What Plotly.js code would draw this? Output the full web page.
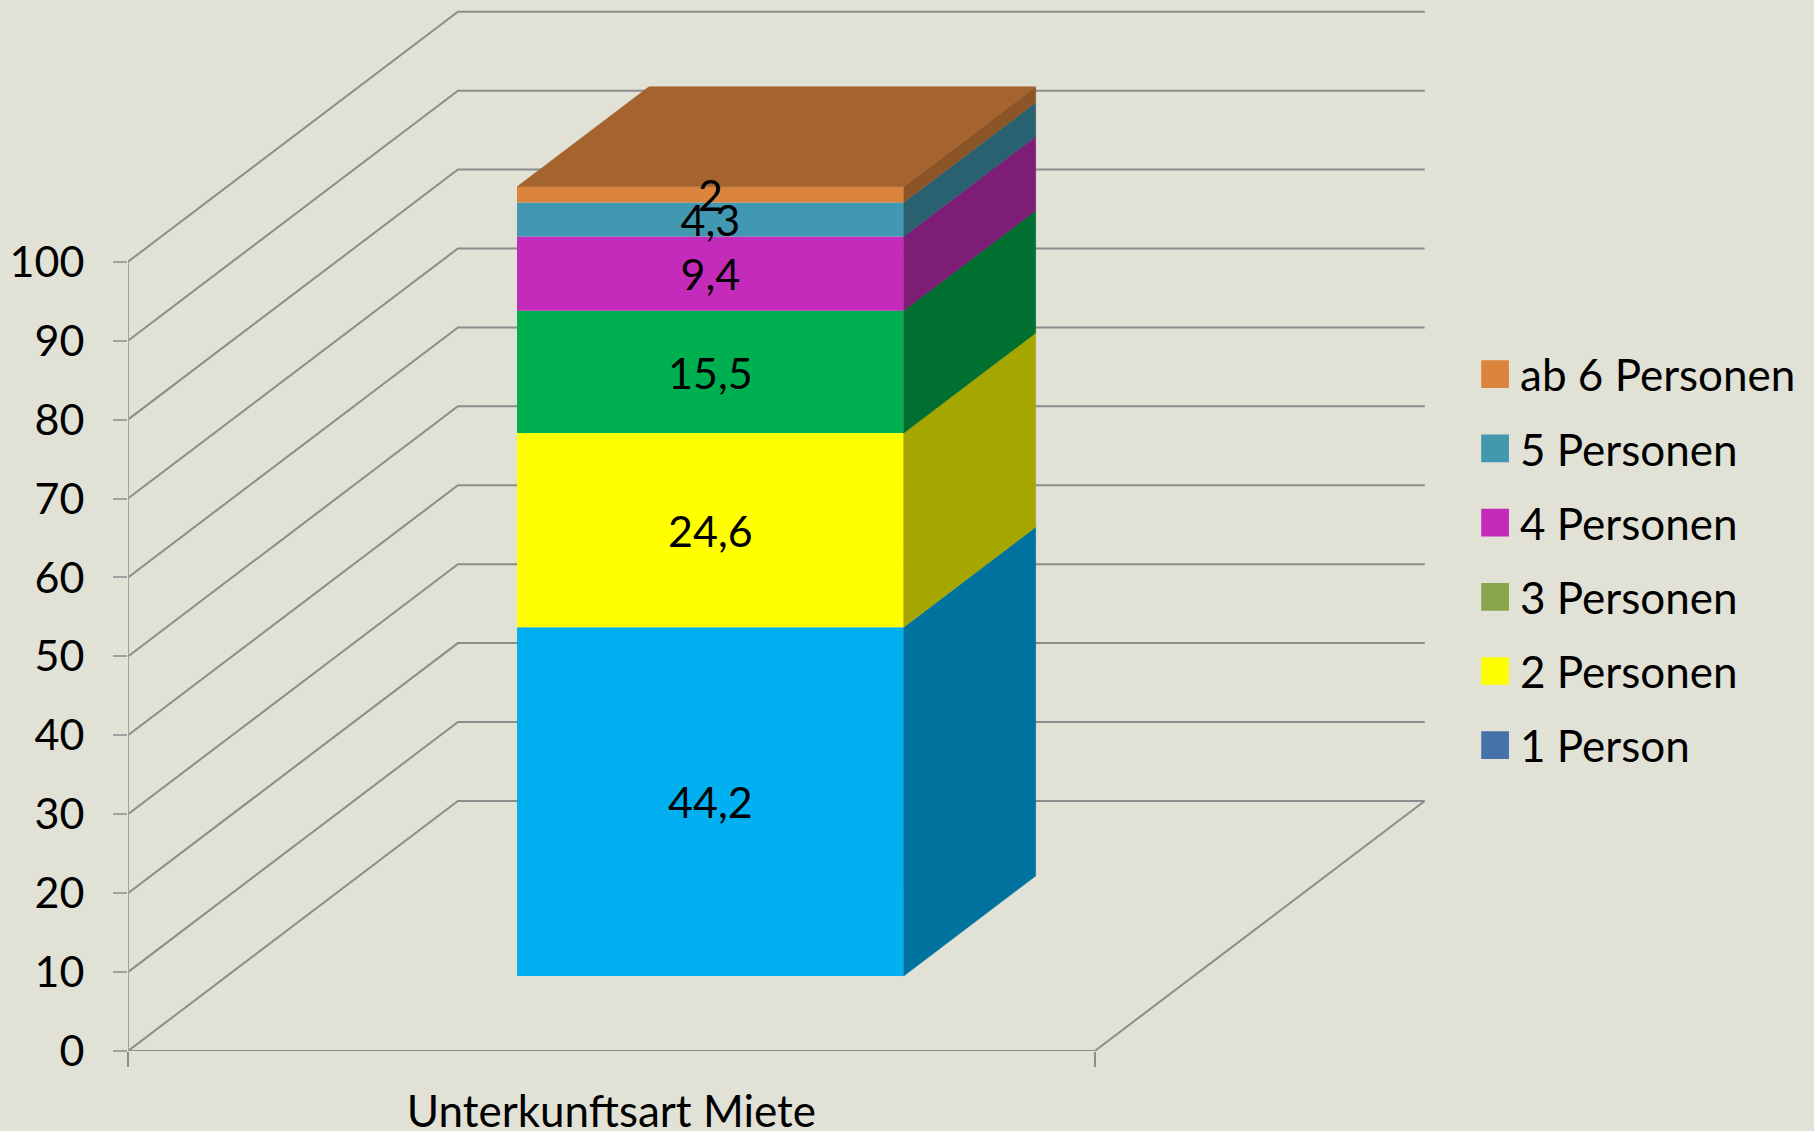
<!DOCTYPE html>
<html>
<head>
<meta charset="utf-8">
<script src="https://cdn.plot.ly/plotly-3.0.1.min.js"></script>
<style>html,body{margin:0;padding:0;background:#E2E1D6;overflow:hidden}</style>
</head>
<body>
<div id="chart" style="width:1814px;height:1131px"></div>
<script>
const category = 'Unterkunftsart Miete';
const seriesNames = ['1 Person', '2 Personen', '3 Personen', '4 Personen', '5 Personen', 'ab 6 Personen'];
const seriesValues = [44.2, 24.6, 15.5, 9.4, 4.3, 2];
const frontColors = ['#00B0F0', '#FFFF00', '#00B050', '#C42BBB', '#4298B1', '#DB843D'];
const sideColors = ['#00729E', '#A6A600', '#006F30', '#7D1D76', '#296170', '#8B5528'];
const legendColors = ['#4572A7', '#FFFF00', '#89A54E', '#C42BBB', '#4198AF', '#DB843D'];
const topColor = '#A5632E';
const yTicks = [0, 10, 20, 30, 40, 50, 60, 70, 80, 90, 100];

const FONT = 'Lato, Carlito, Calibri, sans-serif';
const W = 1814, H = 1131;
const LEFT = 127.6, BOTTOM = 80.3;          // plot origin
const FLOOR_W = 967, UNIT = 7.89;           // px per x unit, px per value
const DEPTH_X = 330 / FLOOR_W, DEPTH_Y = 250 / UNIT;  // oblique shift of the depth axis
const BAR_X = [0.3, 0.7], BAR_D = [0.3, 0.7];
const LABEL_DROP = 0.75;                    // value labels sit slightly below the segment centre

const px = (x, d) => x + d * DEPTH_X;
const py = (d, v) => v + d * DEPTH_Y;

const starts = [];
seriesValues.reduce((s, v, i) => { starts[i] = s; return s + v; }, 0);
const total = seriesValues.reduce((a, b) => a + b, 0);

const traces = [];
// front faces
seriesValues.forEach((v, i) => {
  traces.push({
    type: 'bar', name: seriesNames[i], showlegend: false, hoverinfo: 'skip',
    x: [px((BAR_X[0] + BAR_X[1]) / 2, BAR_D[0])], y: [v],
    base: [py(BAR_D[0], starts[i])], width: [BAR_X[1] - BAR_X[0]],
    marker: {color: frontColors[i], line: {width: 0}}
  });
});
function poly(corners, color) {
  traces.push({
    type: 'scatter', mode: 'lines', showlegend: false, hoverinfo: 'skip',
    x: corners.map(c => px(c[0], c[1])), y: corners.map(c => py(c[1], c[2])),
    fill: 'toself', fillcolor: color, line: {width: 0.5, color: color}
  });
}
// side faces
seriesValues.forEach((v, i) => {
  const a = starts[i], b = a + v, r = BAR_X[1];
  poly([[r, BAR_D[0], a], [r, BAR_D[1], a], [r, BAR_D[1], b], [r, BAR_D[0], b], [r, BAR_D[0], a]], sideColors[i]);
});
// top face
poly([[BAR_X[0], BAR_D[0], total], [BAR_X[1], BAR_D[0], total], [BAR_X[1], BAR_D[1], total], [BAR_X[0], BAR_D[1], total], [BAR_X[0], BAR_D[0], total]], topColor);
// value labels
traces.push({
  type: 'scatter', mode: 'text', showlegend: false, hoverinfo: 'skip',
  x: seriesValues.map(() => px((BAR_X[0] + BAR_X[1]) / 2, BAR_D[0])),
  y: seriesValues.map((v, i) => py(BAR_D[0], starts[i] + v / 2) - LABEL_DROP),
  text: seriesValues.map(v => String(v).replace('.', ',')),
  textposition: 'middle center',
  textfont: {family: FONT, size: 43, color: '#000'}
});
// legend entries, top entry first
seriesNames.slice().reverse().forEach((n) => {
  const i = seriesNames.indexOf(n);
  traces.push({
    type: 'scatter', mode: 'markers', name: n, legendgroup: n, hoverinfo: 'skip',
    x: [null], y: [null],
    marker: {symbol: 'square', size: 16, color: legendColors[i], line: {width: 5, color: legendColors[i]}}
  });
});

// wall and floor lines
const GRID = '#8C8C8C';
const pt = (x, d, v) => px(x, d) + ' ' + py(d, v);
const linePath = (pts) => 'M' + pts.map(p => pt(p[0], p[1], p[2])).join('L');
const shapes = yTicks.map(v => ({
  type: 'path', layer: 'below', xref: 'x', yref: 'y',
  path: linePath([[0, 0, v], [0, 1, v], [1, 1, v]]),
  line: {color: GRID, width: 2}
}));
shapes.push({type: 'path', layer: 'below', xref: 'x', yref: 'y',
  path: linePath([[0, 0, 0], [1, 0, 0], [1, 1, 0]]), line: {color: GRID, width: 2}});
shapes.push({type: 'path', layer: 'below', xref: 'x', yref: 'y',
  path: linePath([[0, 0, 0], [0, 0, yTicks[yTicks.length - 1]]]), line: {color: '#A0A0A0', width: 2}});

const layout = {
  width: W, height: H,
  margin: {l: LEFT, r: 0, t: 0, b: BOTTOM, pad: 0},
  paper_bgcolor: '#E2E1D6', plot_bgcolor: '#E2E1D6',
  barmode: 'overlay',
  showlegend: true,
  font: {family: FONT, color: '#000'},
  xaxis: {
    range: [0, (W - LEFT) / FLOOR_W], showgrid: false, zeroline: false, showline: false,
    tickmode: 'array', tickvals: [0.5], ticktext: [category], ticks: '',
    tickfont: {family: FONT, size: 44}, ticklabelstandoff: 31,
    minor: {tickmode: 'array', tickvals: [0, 1], ticks: 'outside', ticklen: 15, tickcolor: GRID, tickwidth: 2, showgrid: false}
  },
  yaxis: {
    range: [0, (H - BOTTOM) / UNIT], showgrid: false, zeroline: false, showline: false,
    tickmode: 'array', tickvals: yTicks, ticks: 'outside', ticklen: 14, tickcolor: '#A0A0A0', tickwidth: 2,
    tickfont: {family: FONT, size: 43}, ticklabelstandoff: 20
  },
  legend: {
    x: (1470 - LEFT) / (W - LEFT), xanchor: 'left', y: (H - BOTTOM - 339) / (H - BOTTOM), yanchor: 'top',
    bgcolor: 'rgba(0,0,0,0)', traceorder: 'grouped', tracegroupgap: 14, itemwidth: 40,
    font: {family: FONT, size: 44, color: '#000'}, itemclick: false, itemdoubleclick: false
  },
  shapes: shapes
};

const LEGEND_SWATCH_SCALE = 1.32;
Plotly.newPlot('chart', traces, layout, {displayModeBar: false, staticPlot: true}).then((gd) => {
  gd.querySelectorAll('.legend .legendpoints path').forEach((p) => {
    const t = p.getAttribute('transform') || '';
    p.setAttribute('transform', t + ' scale(' + LEGEND_SWATCH_SCALE + ')');
  });
});
</script>
</body>
</html>
